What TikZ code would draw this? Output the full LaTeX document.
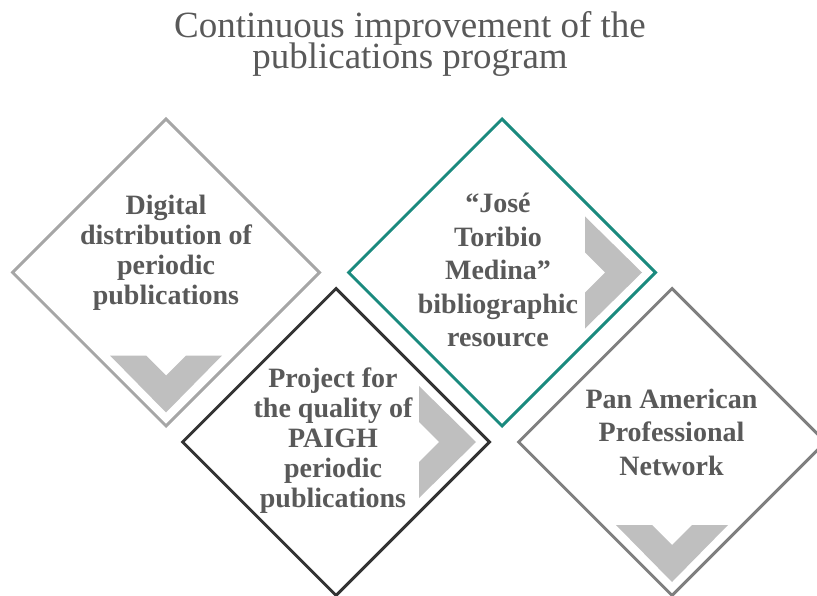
\documentclass[tikz,border=0pt]{standalone}
\usepackage{fontspec}
\setmainfont{Liberation Serif}
\usepackage{tikz}
\usetikzlibrary{shapes.geometric}

\definecolor{txtgray}{HTML}{595959}
\definecolor{chevgray}{HTML}{BFBFBF}
\definecolor{lightline}{HTML}{A6A6A6}
\definecolor{tealline}{HTML}{1A8A7E}
\definecolor{darkline}{HTML}{333333}
\definecolor{midline}{HTML}{7F7F7F}

\begin{document}
\begin{tikzpicture}[x=1pt,y=-1pt
  ,box/.style={diamond,draw,line width=3pt
    ,minimum width=308pt,minimum height=308pt,inner sep=0pt}
  ,chevron/.style={fill=chevgray}
  ,txt/.style={text=txtgray,align=center,inner sep=0pt
    ,font=\fontsize{28}{30}\selectfont\bfseries}
  ,txtwide/.style={txt,font=\fontsize{28}{33.5}\selectfont\bfseries}
  ]
  \clip (0,0) rectangle (817,596);

  % title
  \node[text=txtgray,align=center,inner sep=0pt
    ,font={\fontsize{37}{31}\selectfont\lineskiplimit=-100pt}]
    (title) at (410,44) {Continuous improvement of the\\publications program};

  % the four diamonds
  \node[box,draw=lightline] (dist) at (166,272.5) {};
  \node[box,draw=tealline] (medina) at (502,272.5) {};
  \node[box,draw=darkline] (paigh) at (336,442) {};
  \node[box,draw=midline] (net) at (672,442) {};

  % chevrons
  \foreach \n in {dist,net}
    \fill[chevron,shift={(\n.center)}] (-56,83) -- (-20,83) -- (0,103)
      -- (20,83) -- (56,83) -- (0,140) -- cycle;
  \foreach \n in {medina,paigh}
    \fill[chevron,shift={(\n.center)}] (83,-56) -- (83,-20) -- (103,0)
      -- (83,20) -- (83,56) -- (140,0) -- cycle;

  % texts
  \node[txt] (tdist) at (166,252.5)
    {Digital\\distribution of\\periodic\\publications};
  \node[txtwide] (tmedina) at (498,270)
    {“José\\Toribio\\Medina”\\bibliographic\\resource};
  \node[txt] (tpaigh) at (333,440.5)
    {Project for\\the quality of\\PAIGH\\periodic\\publications};
  \node[txtwide] (tnet) at (671.5,432)
    {Pan American\\Professional\\Network};

\end{tikzpicture}
\end{document}
